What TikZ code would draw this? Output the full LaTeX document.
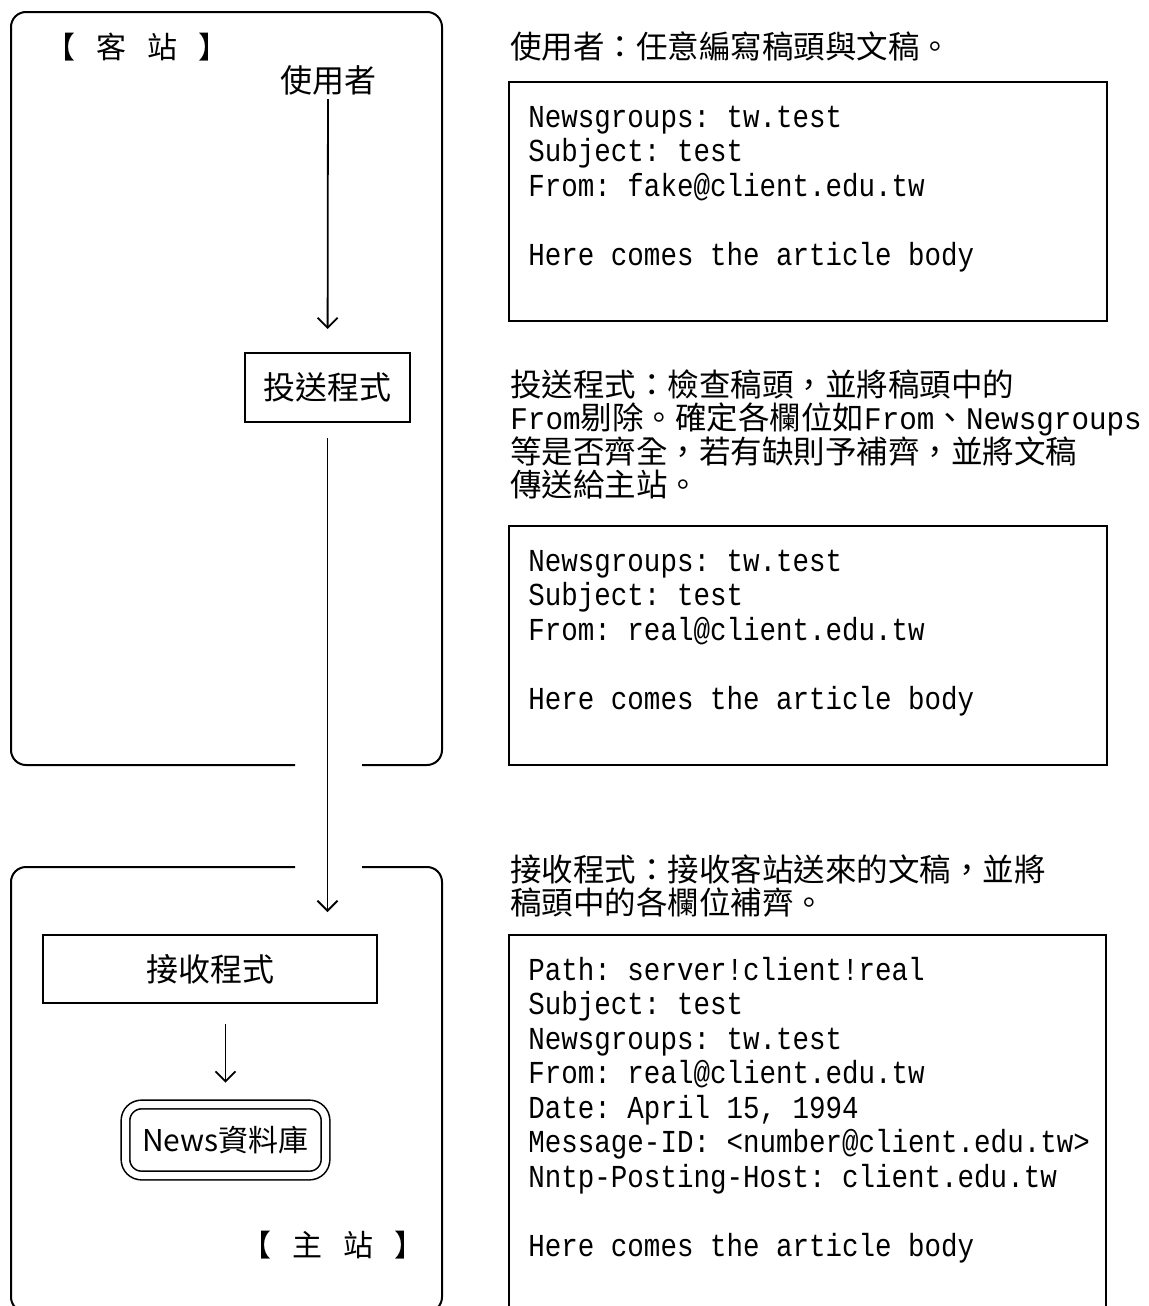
\documentclass[tikz,border=0pt]{standalone}
\usepackage{fontspec}
\setmainfont{Noto Sans CJK TC}
\setmonofont{Liberation Mono}[FakeStretch=0.86]
\newfontfamily\parmono{Liberation Mono}[FakeStretch=0.93]
\usetikzlibrary{arrows.meta}

\newcommand\firstline{\rule{0pt}{15pt}}
\newcommand\gap{\hspace{10.5pt}}

\tikzset{
  frame/.style={line width=1pt},
  proc/.style={draw, line width=1pt, inner sep=0pt, font=\fontsize{16}{16}\selectfont},
  dbbox/.style={draw, double, double distance=3.5pt, line width=0.8pt,
    rounded corners=8pt, inner sep=0pt, minimum width=100pt, minimum height=35.5pt,
    font=\fontsize{15}{15}\selectfont},
  site/.style={inner sep=0pt, font=\fontsize{15}{15}\selectfont},
  flow/.style={-{Straight Barb[length=5pt,width=10pt]}, line width=0.9pt},
  header/.style={anchor=north west, align=left, inner sep=0pt,
    font=\ttfamily\fontsize{16}{17.25}\selectfont},
  note/.style={anchor=north west, align=left, inner sep=0pt,
    font=\fontsize{15.75}{16.65}\selectfont},
}

\begin{document}
\begin{tikzpicture}[x=0.5pt, y=-0.5pt]
  \useasboundingbox (0,0) rectangle (1148,1306);

  % client and server stations
  \draw[frame, rounded corners=7.5pt] (295,765) -- (11,765) -- (11,12)
    -- (442,12) -- (442,765) -- (362,765);
  \draw[frame, rounded corners=7.5pt] (295,867) -- (11,867) -- (11,1312)
    -- (442,1312) -- (442,867) -- (362,867);

  \node[site] (client) at (137,47) {【\gap 客\gap 站\gap 】};
  \node[site] (server) at (333,1245) {【\gap 主\gap 站\gap 】};

  \node[site, font=\fontsize{16}{16}\selectfont] (user) at (328,80) {使用者};
  \node[proc, minimum width=82.5pt, minimum height=34.5pt] (send) at (327.5,387.5) {投送程式};
  \node[proc, minimum width=167pt, minimum height=34pt] (recv) at (210,969) {接收程式};
  \node[dbbox] (db) at (225.5,1140) {News資料庫};

  \draw[flow, shorten <=2pt, shorten >=11.5pt] (user) -- (send);
  \draw[flow, shorten <=7.5pt, shorten >=11pt] (send.south) -- (send.south |- recv.north);
  \draw[flow, shorten <=10pt, shorten >=10.5pt] (db.north |- recv.south) -- (db.north);

  % article headers
  \draw[frame] (509,82) rectangle (1107,321);
  \draw[frame] (509,526) rectangle (1107,765);
  \draw[frame] (509,935) rectangle (1106,1330);

  \node[note] (usernote) at (510,28) {\firstline 使用者：任意編寫稿頭與文稿。};
  \node[header] (hdr1) at (528,97) {\firstline Newsgroups: tw.test\\Subject: test\\
    From: fake@client.edu.tw\\[17.25pt]Here comes the article body};

  \node[note] (sendnote) at (510,366) {\firstline 投送程式：檢查稿頭，並將稿頭中的\\
    {\parmono From}剔除。確定各欄位如{\parmono From}、{\parmono Newsgroups}\\
    等是否齊全，若有缺則予補齊，並將文稿\\傳送給主站。};
  \node[header] (hdr2) at (528,541) {\firstline Newsgroups: tw.test\\Subject: test\\
    From: real@client.edu.tw\\[17.25pt]Here comes the article body};

  \node[note] (recvnote) at (510,851) {\firstline 接收程式：接收客站送來的文稿，並將\\
    稿頭中的各欄位補齊。};
  \node[header] (hdr3) at (528,950) {\firstline Path: server!client!real\\Subject: test\\
    Newsgroups: tw.test\\From: real@client.edu.tw\\Date: April 15, 1994\\
    Message-ID: <number@client.edu.tw>\\Nntp-Posting-Host: client.edu.tw\\[17.25pt]
    Here comes the article body};
\end{tikzpicture}
\end{document}
